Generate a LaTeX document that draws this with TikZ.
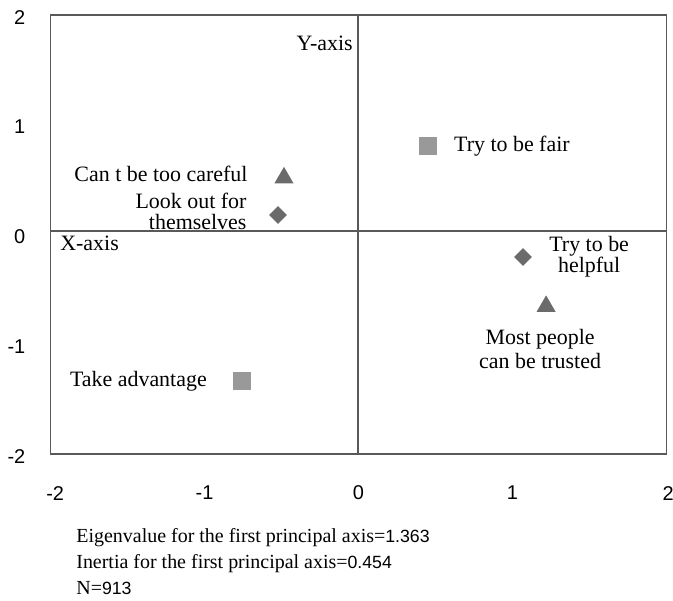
\documentclass[tikz,border=0pt]{standalone}
\usepackage{fontspec}
\setmainfont{Liberation Serif}
\setsansfont{Liberation Sans}
\usetikzlibrary{positioning,shapes.geometric}
\newcommand{\numtxt}[1]{{\sffamily\fontsize{12.6}{14}\selectfont #1}}

\begin{document}
\begin{tikzpicture}[x=3.85cm,y=2.744cm]
                \tikzset{tri/.style = {regular polygon,regular polygon sides=3,fill=black!58,inner sep=0pt,minimum size=0.55cm}}
                \tikzset{dia/.style = {diamond,fill=black!58,inner sep=0pt,minimum size=0.45cm}}
                \tikzset{sq/.style = {rectangle,fill=black!40,inner sep=0pt,minimum size=0.46cm}}
                \tikzset{lbl/.style = {inner sep=0pt,font=\fontsize{15.6}{17}\selectfont}}
                \tikzset{tick/.style = {inner sep=0pt,font=\sffamily\fontsize{14.2}{16}\selectfont}}
                \tikzset{note/.style = {inner sep=0pt,anchor=base west,font=\fontsize{14.2}{16}\selectfont}}
                \tikzset{frame/.style = {draw=black!65,line width=1pt}}
                \useasboundingbox (-2.328,-3.330) rectangle (2.042,2.137);
                % frame and axes
                \draw[frame] (-2,-2) rectangle (2,2);
                \draw[frame] (-0.003,-2) -- (-0.003,2);
                \draw[frame] (-2,0.032) -- (2,0.032);
                % ticks
                \foreach \v/\p in {-2/-1.97,-1/-1,0/0,1/1,2/2.01} {
                    \node[tick,anchor=east] (ty\v) at (-2.162,\v-0.02) {\v};
                    \node[tick] (tx\v) at (\p,-2.355) {\v};
                }
                % markers
                \node[tri] (careful) at (-0.484,0.517) {};
                \node[dia] (lookout) at (-0.523,0.178) {};
                \node[sq] (fair) at (0.451,0.806) {};
                \node[dia] (helpful) at (1.068,-0.205) {};
                \node[tri] (trusted) at (1.218,-0.654) {};
                \node[sq] (advantage) at (-0.756,-1.335) {};
                % labels
                \node[lbl,left=0.74cm of careful,yshift=0.1cm] (careful-l) {Can t be too careful};
                \node[lbl,left=0.55cm of lookout,yshift=0.1cm,align=right,font=\fontsize{15.6}{15}\selectfont] (lookout-l) {Look out for\\themselves};
                \node[lbl,right=0.41cm of fair] (fair-l) {Try to be fair};
                \node[lbl,right=0.42cm of helpful,align=center,font=\fontsize{15.6}{15}\selectfont] (helpful-l) {Try to be\\helpful};
                \node[lbl,below=0.42cm of trusted,xshift=-0.15cm,align=center] (trusted-l) {Most people\\can be trusted};
                \node[lbl,left=0.64cm of advantage] (advantage-l) {Take advantage};
                \node[lbl,anchor=east] (yaxis) at (-0.036,1.745) {Y-axis};
                \node[lbl,anchor=west] (xaxis) at (-1.938,-0.077) {X-axis};
                % notes
                \node[note] (eigen) at (-1.834,-2.807) {Eigenvalue for the first principal axis=\numtxt{1.363}};
                \node[note] (inertia) at (-1.834,-3.044) {Inertia for the first principal axis=\numtxt{0.454}};
                \node[note] (count) at (-1.834,-3.281) {N=\numtxt{913}};
\end{tikzpicture}
\end{document}
